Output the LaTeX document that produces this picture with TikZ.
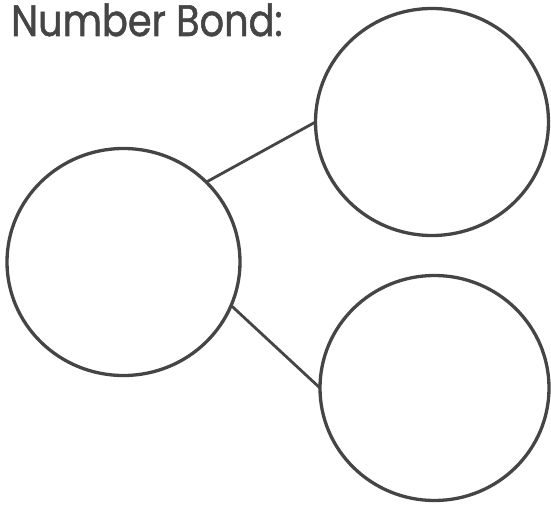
\documentclass[tikz,border=0pt]{standalone}
\usepackage{fontspec}
\newfontfamily\titlefont[FakeStretch=0.87,FakeBold=1.2]{Poppins}
\usetikzlibrary{shapes.geometric}
\definecolor{ink}{HTML}{454545}
\tikzset{
  bondcircle/.style={ellipse, draw=ink, line width=3.3pt, inner sep=0pt, outer sep=0pt},
  bondline/.style={draw=ink, line width=2.8pt}
}
\begin{document}
\begin{tikzpicture}[x=1pt,y=-1pt]
\useasboundingbox (0,0) rectangle (551,505);
\node[anchor=base west, inner sep=0pt, text=ink, font=\titlefont\fontsize{44}{44}\selectfont] (title) at (11,36) {Number Bond:};
\node[bondcircle, minimum width=233pt, minimum height=227pt] (whole) at (123.5,262) {};
\node[bondcircle, minimum width=233pt, minimum height=227pt] (parta) at (432,122) {};
\node[bondcircle, minimum width=229pt, minimum height=225pt] (partb) at (434.5,388) {};
\draw[bondline] (whole.44) -- (parta.180);
\draw[bondline] (whole.-22) -- (partb.180);
\end{tikzpicture}
\end{document}
